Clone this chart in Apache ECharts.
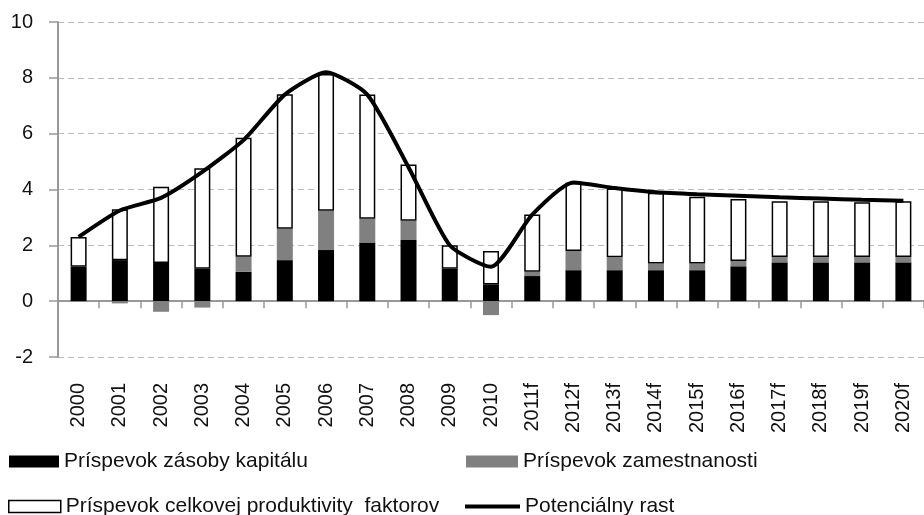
<!DOCTYPE html>
<html>
<head>
<meta charset="utf-8">
<script src="https://cdn.jsdelivr.net/npm/echarts@6/dist/echarts.min.js"></script>
<style>
  html, body { margin: 0; padding: 0; background: #fff; }
  #chart { width: 924px; height: 515px; }
</style>
</head>
<body>
<div id="chart"></div>
<script>
// categories and contributions (percentage points)
const years = ['2000', '2001', '2002', '2003', '2004', '2005', '2006', '2007', '2008', '2009', '2010',
  '2011f', '2012f', '2013f', '2014f', '2015f', '2016f', '2017f', '2018f', '2019f', '2020f'];
const capital = [1.23, 1.47, 1.37, 1.16, 1.05, 1.47, 1.83, 2.10, 2.19, 1.16, 0.60,
  0.90, 1.11, 1.11, 1.11, 1.11, 1.25, 1.39, 1.39, 1.39, 1.39];
const employment = [0, -0.08, -0.38, -0.23, 0.54, 1.12, 1.41, 0.85, 0.69, 0, -0.50,
  0.15, 0.69, 0.46, 0.24, 0.24, 0.19, 0.19, 0.19, 0.19, 0.19];
const tfp = [1.07, 1.82, 2.73, 3.60, 4.26, 4.82, 4.90, 4.45, 2.02, 0.84, 1.20,
  2.05, 2.44, 2.47, 2.53, 2.39, 2.22, 2.00, 2.00, 1.96, 2.00];
const potential = [2.30, 3.25, 3.70, 4.63, 5.77, 7.40, 8.20, 7.40, 4.80, 2.00, 1.23,
  3.10, 4.25, 4.05, 3.90, 3.83, 3.78, 3.72, 3.68, 3.63, 3.60];
const yTicks = { min: -2, max: 10, interval: 2 };

const names = {
  capital: 'Príspevok zásoby kapitálu',
  employment: 'Príspevok zamestnanosti',
  tfp: 'Príspevok celkovej produktivity  faktorov',
  potential: 'Potenciálny rast'
};

const FONT = 'Liberation Sans, Arial, sans-serif';
const legendText = { fontFamily: FONT, fontSize: 21, color: '#111' };

function legendAt(name, left, top, w, h, style) {
  return {
    data: [{ name: name, icon: 'rect', itemStyle: style }],
    left: left,
    top: top,
    itemWidth: w,
    itemHeight: h,
    itemGap: 0,
    padding: 0,
    selectedMode: false,
    textStyle: legendText
  };
}

const chart = echarts.init(document.getElementById('chart'), null, { renderer: 'canvas' });

chart.setOption({
  animation: false,
  backgroundColor: '#fff',
  grid: { left: 58, top: 22, right: -10, bottom: 158 },
  legend: [
    legendAt(names.capital, 9, 451, 50, 12, { color: '#000' }),
    legendAt(names.employment, 466, 451, 52, 12, { color: '#808080' }),
    legendAt(names.tfp, 8, 496, 52, 12, { color: '#fff', borderColor: '#000', borderWidth: 1.5 }),
    {
      data: [{ name: names.potential, icon: 'rect', itemStyle: { color: '#000' } }],
      left: 465,
      top: 496,
      itemWidth: 55,
      itemHeight: 4,
      itemGap: 0,
      padding: 0,
      selectedMode: false,
      textStyle: legendText
    }
  ],
  xAxis: [
    {
      // axis line at zero with boundary ticks
      type: 'category',
      data: years,
      position: 'bottom',
      axisLine: { onZero: true, lineStyle: { color: '#999', width: 2 } },
      axisTick: { show: true, length: 7, lineStyle: { color: '#999', width: 1.5 } },
      axisLabel: { show: false }
    },
    {
      // labels at the bottom of the plot area
      type: 'category',
      data: years,
      position: 'bottom',
      axisLine: { show: false, onZero: false },
      axisTick: { show: false },
      axisLabel: {
        rotate: 90,
        margin: 26,
        interval: 0,
        fontFamily: FONT,
        fontSize: 20,
        color: '#111'
      }
    }
  ],
  yAxis: {
    type: 'value',
    min: yTicks.min,
    max: yTicks.max,
    interval: yTicks.interval,
    axisLine: { show: true, lineStyle: { color: '#999', width: 2 } },
    axisTick: { show: true, length: 9, lineStyle: { color: '#999', width: 1.5 } },
    axisLabel: { margin: 25, fontFamily: FONT, fontSize: 20, color: '#111' },
    splitLine: { show: true, lineStyle: { color: '#bbb', type: [6, 4], width: 1 } }
  },
  series: [
    {
      name: names.capital,
      type: 'bar',
      stack: 'total',
      barWidth: 16,
      data: capital,
      itemStyle: { color: '#000' }
    },
    {
      name: names.employment,
      type: 'bar',
      stack: 'total',
      barWidth: 16,
      data: employment,
      itemStyle: { color: '#808080' }
    },
    {
      name: names.tfp,
      type: 'bar',
      stack: 'total',
      barWidth: 16,
      data: tfp,
      itemStyle: { color: '#fff', borderColor: '#000', borderWidth: 1.5 }
    },
    {
      name: names.potential,
      type: 'line',
      data: potential,
      smooth: 0.2,
      showSymbol: false,
      symbol: 'none',
      z: 5,
      lineStyle: { color: '#000', width: 4 },
      itemStyle: { color: '#000' }
    }
  ]
});
</script>
</body>
</html>
